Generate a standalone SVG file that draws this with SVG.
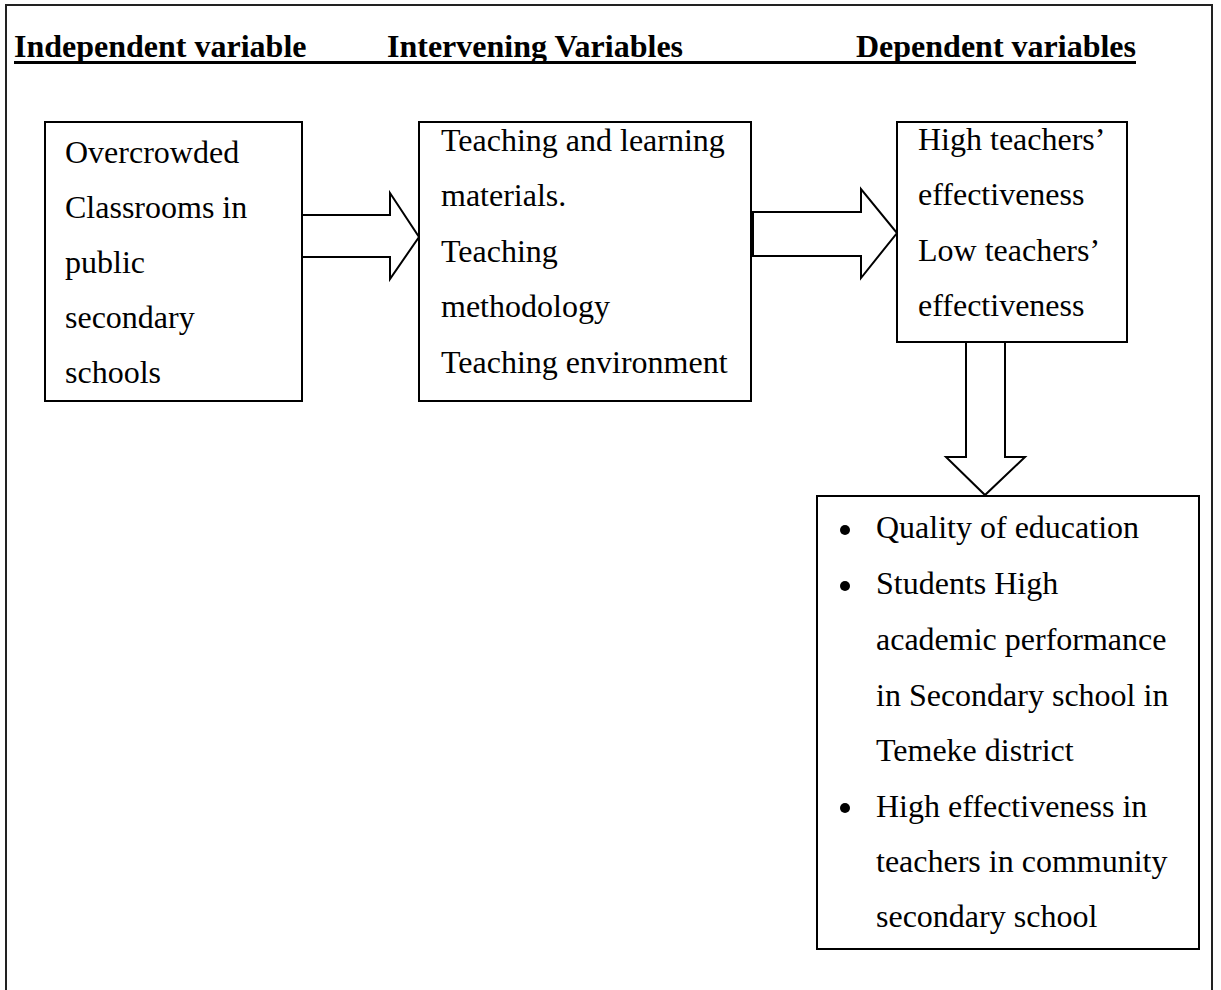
<svg xmlns="http://www.w3.org/2000/svg" width="1221" height="990" viewBox="0 0 1221 990">
<style>
.t{font-family:"Liberation Serif","Times New Roman",serif;font-size:32px;fill:#000}
.h{font-family:"Liberation Serif","Times New Roman",serif;font-size:32px;font-weight:bold;fill:#000}
.box{fill:#fff;stroke:#000;stroke-width:2}
.arr{fill:#fff;stroke:#000;stroke-width:2;stroke-linejoin:miter}
</style>
<rect x="0" y="0" width="1221" height="990" fill="#fff"/>
<path d="M6,996 V5 H1212 V996" fill="none" stroke="#222" stroke-width="2"/>
<g id="headings">
<text class="h" x="14" y="57">Independent variable</text>
<text class="h" x="387" y="57">Intervening Variables</text>
<text class="h" x="856" y="57">Dependent variables</text>
<rect x="14" y="61" width="1122" height="3" fill="#000"/>
</g>
<g id="connectors">
<polygon class="arr" points="302,215 390,215 390,193 419,237 390,279 390,257 302,257"/>
<polygon class="arr" points="753,212 861,212 861,189 897,233 861,278 861,256 753,256"/>
<polygon class="arr" points="966,342 966,457 946,457 985,495 1025,457 1005,457 1005,342"/>
</g>
<g id="independent">
<rect class="box" x="45" y="122" width="257" height="279"/>
<text class="t" x="65" y="163">Overcrowded</text>
<text class="t" x="65" y="218">Classrooms in</text>
<text class="t" x="65" y="273">public</text>
<text class="t" x="65" y="328">secondary</text>
<text class="t" x="65" y="383">schools</text>
</g>
<g id="intervening">
<rect class="box" x="419" y="122" width="332" height="279"/>
<text class="t" x="441" y="151">Teaching and learning</text>
<text class="t" x="441" y="206">materials.</text>
<text class="t" x="441" y="262">Teaching</text>
<text class="t" x="441" y="317">methodology</text>
<text class="t" x="441" y="373">Teaching environment</text>
</g>
<g id="dependent">
<rect class="box" x="897" y="122" width="230" height="220"/>
<text class="t" x="918" y="150">High teachers’</text>
<text class="t" x="918" y="205">effectiveness</text>
<text class="t" x="918" y="261">Low teachers’</text>
<text class="t" x="918" y="316">effectiveness</text>
</g>
<g id="outcomes">
<rect class="box" x="817" y="496" width="382" height="453"/>
<circle cx="845" cy="530" r="5"/>
<circle cx="845" cy="586" r="5"/>
<circle cx="845" cy="808" r="5"/>
<text class="t" x="876" y="538">Quality of education</text>
<text class="t" x="876" y="594">Students High</text>
<text class="t" x="876" y="650">academic performance</text>
<text class="t" x="876" y="706">in Secondary school in</text>
<text class="t" x="876" y="761">Temeke district</text>
<text class="t" x="876" y="817">High effectiveness in</text>
<text class="t" x="876" y="872">teachers in community</text>
<text class="t" x="876" y="927">secondary school</text>
</g>
</svg>
